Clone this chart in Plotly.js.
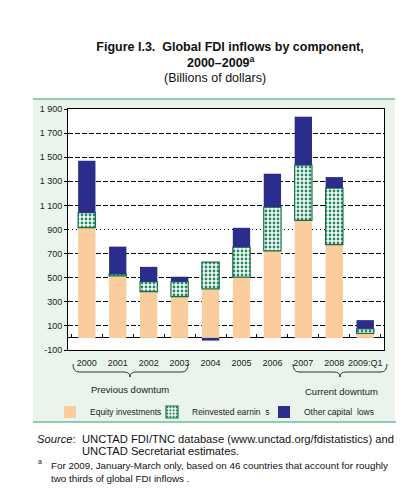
<!DOCTYPE html>
<html>
<head>
<meta charset="utf-8">
<script src="https://cdn.plot.ly/plotly-3.0.1.min.js"></script>
<style>html,body{margin:0;padding:0;background:#fff;}#chart{width:410px;height:500px;}</style>
</head>
<body>
<div id="chart"></div>
<script>
// ---- data (billions of dollars) ----
const categories = ["2000","2001","2002","2003","2004","2005","2006","2007","2008","2009:Q1"];
const equityInvestments = [915, 515, 385, 343, 407, 504, 723, 975, 775, 38];
const reinvestedEarnings = [125, 15, 83, 125, 222, 249, 363, 460, 469, 38];
const otherCapitalFlows = [430, 228, 122, 40, -22, 161, 277, 401, 91, 72];
const seriesNames = ["Equity investments", "Reinvested earnin  s", "Other capital  lows"];
const yTickVals = [-100, 100, 300, 500, 700, 900, 1100, 1300, 1500, 1700, 1900];
const yTickText = ["-100", "100", "300", "500", "700", "900", "1 100", "1 300", "1 500", "1 700", "1 900"];
const dashedGridVals = [100, 300, 500, 700, 1100, 1300, 1500, 1700];
const dottedGridVals = [900];

// ---- layout helpers (pixel -> paper) ----
const L = 68, R = 384, T = 109, B = 350;
const W = R - L, H = B - T;
const px = x => (x - L) / W;
const py = y => (B - y) / H;

function brace(x0, x1, xm, yTop, yMid, yBot) {
  const r = 6;
  return `M${px(x0)},${py(yTop)} Q${px(x0)},${py(yMid)} ${px(x0 + r)},${py(yMid)} ` +
         `L${px(xm - r)},${py(yMid)} Q${px(xm)},${py(yMid)} ${px(xm)},${py(yBot)} ` +
         `Q${px(xm)},${py(yMid)} ${px(xm + r)},${py(yMid)} ` +
         `L${px(x1 - r)},${py(yMid)} Q${px(x1)},${py(yMid)} ${px(x1)},${py(yTop)}`;
}

const FONT = "Liberation Sans, Arial, sans-serif";

const helper = (xa, ya) => ({
  type: "scatter", mode: "markers", x: categories, y: equityInvestments,
  xaxis: xa, yaxis: ya, marker: { opacity: 0, size: 1 }, showlegend: false, hoverinfo: "skip"
});

const traces = [
  {
    type: "bar", name: seriesNames[0], x: categories, y: equityInvestments,
    marker: { color: "#fbcd9c", line: { width: 0 } },
    legendwidth: 57, hoverinfo: "y"
  },
  {
    type: "bar", name: seriesNames[1], x: categories, y: reinvestedEarnings,
    marker: {
      color: "#ffffff",
      line: { color: "#17704a", width: 1.2 },
      pattern: { shape: ".", fgcolor: "#1f8a5c", bgcolor: "#ffffff", size: 4, solidity: 0.4, fillmode: "replace" }
    },
    legendwidth: 67, hoverinfo: "y"
  },
  {
    type: "bar", name: seriesNames[2], x: categories, y: otherCapitalFlows,
    marker: { color: "#2b2d8c", line: { width: 0 } },
    hoverinfo: "y"
  },
  helper("x2", "y"),
  helper("x", "y2"),
  helper("x", "y3")
];

const yRange = [-100, 1900];

const layout = {
  width: 410, height: 500,
  margin: { l: L, r: 410 - R, t: T, b: 500 - B, pad: 0 },
  paper_bgcolor: "#ffffff",
  plot_bgcolor: "rgba(0,0,0,0)",
  barmode: "relative",
  bargap: 0.44,
  font: { family: FONT, color: "#222", size: 9 },
  title: {
    text: "<b>Figure I.3.  Global FDI inflows by component,</b>",
    font: { family: FONT, size: 12.5, color: "#111" },
    x: 230 / 410, xanchor: "center", xref: "container",
    y: 1 - 47 / 500, yanchor: "middle", yref: "container"
  },
  xaxis: {
    type: "category",
    showline: true, mirror: true, linecolor: "#000", linewidth: 1,
    ticks: "", showgrid: false, zeroline: false,
    tickfont: { family: FONT, size: 9, color: "#222" },
    ticklabelstandoff: 4
  },
  xaxis2: {
    type: "category", overlaying: "x", anchor: "free", position: 100 / 2000,
    side: "bottom", matches: "x",
    ticks: "inside", tickson: "boundaries", ticklen: 4, tickcolor: "#000", tickwidth: 1,
    showticklabels: false, showline: false, showgrid: false, zeroline: false
  },
  yaxis: {
    range: yRange, autorange: false,
    tickvals: yTickVals, ticktext: yTickText,
    ticks: "outside", ticklen: 3, tickcolor: "#000",
    showline: true, mirror: true, linecolor: "#000", linewidth: 1,
    showgrid: false,
    zeroline: true, zerolinecolor: "#000", zerolinewidth: 1,
    tickfont: { family: FONT, size: 9, color: "#222" }
  },
  yaxis2: {
    overlaying: "y", side: "left", anchor: "x", matches: "y",
    range: yRange, autorange: false,
    tickvals: dashedGridVals, showticklabels: false, ticks: "",
    showline: false, zeroline: false,
    showgrid: true, gridcolor: "#000", gridwidth: 1, griddash: "5px,2px"
  },
  yaxis3: {
    overlaying: "y", side: "left", anchor: "x", matches: "y",
    range: yRange, autorange: false,
    tickvals: dottedGridVals, showticklabels: false, ticks: "",
    showline: false, zeroline: false,
    showgrid: true, gridcolor: "#000", gridwidth: 1, griddash: "1px,3px"
  },
  showlegend: true,
  legend: {
    orientation: "h",
    x: px(50), xanchor: "left",
    y: py(412), yanchor: "middle",
    bgcolor: "rgba(0,0,0,0)", borderwidth: 0,
    font: { family: FONT, size: 8.5, color: "#222" },
    itemwidth: 30, traceorder: "normal"
  },
  shapes: [
    // light green panel behind the chart
    { type: "rect", xref: "paper", yref: "paper", x0: px(33), x1: px(395), y0: py(422), y1: py(99),
      fillcolor: "#eaf4ec", line: { width: 0 }, layer: "below" },
    // white plotting area
    { type: "rect", xref: "paper", yref: "paper", x0: 0, x1: 1, y0: 0, y1: 1,
      fillcolor: "#ffffff", line: { width: 0 }, layer: "below" },
    // panel top and bottom rules
    { type: "line", xref: "paper", yref: "paper", x0: px(33), x1: px(395), y0: py(99), y1: py(99),
      line: { color: "#2f9e6e", width: 1.2 } },
    { type: "line", xref: "paper", yref: "paper", x0: px(33), x1: px(396), y0: py(422), y1: py(422),
      line: { color: "#2f9e6e", width: 1.2 } },
    // braces
    { type: "path", xref: "paper", yref: "paper", path: brace(73, 188, 130, 364, 372, 377),
      line: { color: "#333", width: 1 } },
    { type: "path", xref: "paper", yref: "paper", path: brace(293, 387, 340, 364, 372, 377),
      line: { color: "#333", width: 1 } }
  ],
  annotations: [
    { text: "<b>2000–2009<sup>a</sup></b>", xref: "paper", yref: "paper", x: px(221), y: py(62),
      xanchor: "center", yanchor: "middle", showarrow: false, font: { family: FONT, size: 12.5, color: "#111" } },
    { text: "(Billions of dollars)", xref: "paper", yref: "paper", x: px(215), y: py(78),
      xanchor: "center", yanchor: "middle", showarrow: false, font: { family: FONT, size: 12.5, color: "#111" } },
    { text: "Previous downtum", xref: "paper", yref: "paper", x: px(130), y: py(389),
      xanchor: "center", yanchor: "middle", showarrow: false, font: { family: FONT, size: 9.5, color: "#222" } },
    { text: "Current downtum", xref: "paper", yref: "paper", x: px(341), y: py(391),
      xanchor: "center", yanchor: "middle", showarrow: false, font: { family: FONT, size: 9.5, color: "#222" } },
    { text: "<i>Source</i>:", xref: "paper", yref: "paper", x: px(35), y: py(439),
      xanchor: "left", yanchor: "middle", showarrow: false, font: { family: FONT, size: 11.2, color: "#111" } },
    { text: "UNCTAD FDI/TNC database (www.unctad.org/fdistatistics) and", xref: "paper", yref: "paper", x: px(80), y: py(439),
      xanchor: "left", yanchor: "middle", showarrow: false, font: { family: FONT, size: 11.2, color: "#111" } },
    { text: "UNCTAD Secretariat estimates.", xref: "paper", yref: "paper", x: px(80), y: py(451),
      xanchor: "left", yanchor: "middle", showarrow: false, font: { family: FONT, size: 11.2, color: "#111" } },
    { text: "a", xref: "paper", yref: "paper", x: px(36), y: py(461),
      xanchor: "left", yanchor: "middle", showarrow: false, font: { family: FONT, size: 7, color: "#111" } },
    { text: "For 2009, January-March only, based on 46 countries that account for roughly", xref: "paper", yref: "paper", x: px(49), y: py(465),
      xanchor: "left", yanchor: "middle", showarrow: false, font: { family: FONT, size: 9.8, color: "#111" } },
    { text: "two thirds of global FDI inflows .", xref: "paper", yref: "paper", x: px(49), y: py(478),
      xanchor: "left", yanchor: "middle", showarrow: false, font: { family: FONT, size: 9.8, color: "#111" } }
  ]
};

Plotly.newPlot("chart", traces, layout, { displayModeBar: false, staticPlot: true });
</script>
</body>
</html>
